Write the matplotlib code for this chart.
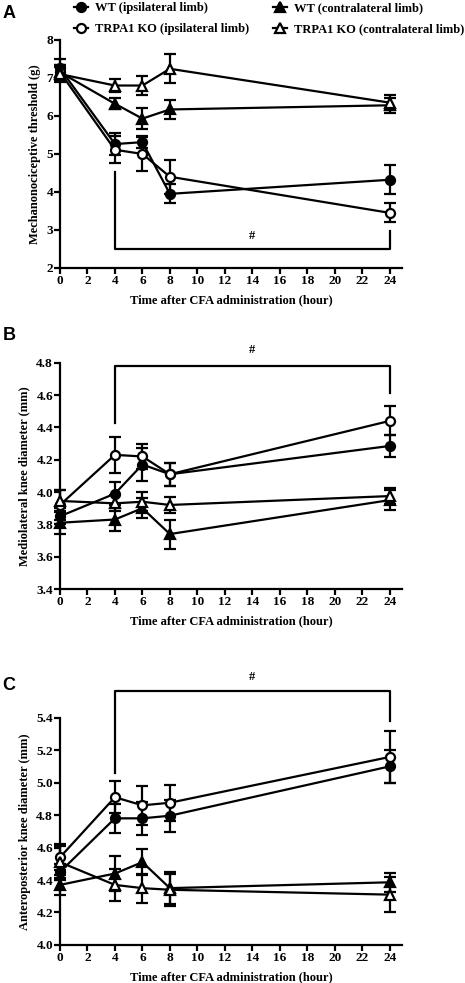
import matplotlib
matplotlib.use("Agg")
import matplotlib.pyplot as plt
from matplotlib.lines import Line2D

plt.rcParams['font.family'] = ['Liberation Serif', 'DejaVu Serif']
plt.rcParams['font.weight'] = 'bold'

time = [0, 4, 6, 8, 24]
series_names = ["WT (ipsilateral limb)", "TRPA1 KO (ipsilateral limb)",
                "WT (contralateral limb)", "TRPA1 KO (contralateral limb)"]

# Panel A: Mechanonociceptive threshold (g)
a_wt_ipsi = [7.25, 5.26, 5.31, 3.95, 4.32]
a_wt_ipsi_err = [0.25, 0.28, 0.15, 0.25, 0.38]
a_ko_ipsi = [7.15, 5.11, 5.00, 4.40, 3.45]
a_ko_ipsi_err = [0.2, 0.35, 0.45, 0.45, 0.25]
a_wt_contra = [7.15, 6.32, 5.93, 6.17, 6.28]
a_wt_contra_err = [0.2, 0.15, 0.28, 0.25, 0.2]
a_ko_contra = [7.10, 6.80, 6.80, 7.24, 6.35]
a_ko_contra_err = [0.2, 0.18, 0.25, 0.38, 0.2]

# Panel B: Mediolateral knee diameter (mm)
b_wt_ipsi = [3.85, 3.99, 4.17, 4.11, 4.285]
b_wt_ipsi_err = [0.05, 0.07, 0.10, 0.07, 0.07]
b_ko_ipsi = [3.92, 4.23, 4.22, 4.11, 4.44]
b_ko_ipsi_err = [0.09, 0.11, 0.08, 0.07, 0.09]
b_wt_contra = [3.81, 3.83, 3.90, 3.74, 3.95]
b_wt_contra_err = [0.07, 0.07, 0.06, 0.09, 0.06]
b_ko_contra = [3.945, 3.93, 3.94, 3.92, 3.975]
b_ko_contra_err = [0.07, 0.05, 0.06, 0.05, 0.05]

# Panel C: Anteroposterior knee diameter (mm)
c_wt_ipsi = [4.45, 4.78, 4.78, 4.796, 5.10]
c_wt_ipsi_err = [0.05, 0.09, 0.10, 0.10, 0.10]
c_ko_ipsi = [4.54, 4.91, 4.86, 4.876, 5.158]
c_ko_ipsi_err = [0.08, 0.10, 0.12, 0.11, 0.16]
c_wt_contra = [4.37, 4.44, 4.51, 4.35, 4.386]
c_wt_contra_err = [0.06, 0.11, 0.08, 0.10, 0.06]
c_ko_contra = [4.51, 4.37, 4.35, 4.34, 4.31]
c_ko_contra_err = [0.1, 0.10, 0.09, 0.10, 0.11]

styles = [dict(marker='o', mfc='black'), dict(marker='o', mfc='white'),
          dict(marker='^', mfc='black'), dict(marker='^', mfc='white')]

fig = plt.figure(figsize=(4.65, 9.83), dpi=100)

def panel(rect, data, ylim, yticks, ylabel, ytickfmt):
    ax = fig.add_axes(rect)
    for (y, e), st in zip(data, styles):
        ax.errorbar(time, y, yerr=e, color='black', lw=1.6, elinewidth=1.6,
                    capsize=4, capthick=1.6, marker=st['marker'], ms=6.5,
                    mfc=st['mfc'], mec='black', mew=1.6, clip_on=False, zorder=3)
    ax.set_xlim(0, 24.9)
    ax.set_ylim(*ylim)
    ax.set_xticks(range(0, 25, 2))
    ax.set_yticks(yticks)
    ax.set_yticklabels([ytickfmt.format(v) for v in yticks])
    for s in ['top', 'right']:
        ax.spines[s].set_visible(False)
    for s in ['left', 'bottom']:
        ax.spines[s].set_linewidth(1.6)
    ax.tick_params(width=1.6, length=4, labelsize=9.5, pad=1)
    for lab in ax.get_xticklabels() + ax.get_yticklabels():
        lab.set_fontweight('bold')
    ax.set_xlabel("Time after CFA administration (hour)", fontsize=9, fontweight='bold', labelpad=5)
    ax.set_ylabel(ylabel, fontsize=9, fontweight='bold', labelpad=4)
    return ax

axA = panel([0.129, 0.7274, 0.7355, 0.232],
            [(a_wt_ipsi, a_wt_ipsi_err), (a_ko_ipsi, a_ko_ipsi_err),
             (a_wt_contra, a_wt_contra_err), (a_ko_contra, a_ko_contra_err)],
            (2, 8), [2, 3, 4, 5, 6, 7, 8], "Mechanonociceptive threshold (g)", "{:g}")
axA.plot([4, 4, 24, 24], [4.52, 2.5, 2.5, 2.98], color='black', lw=1.6, clip_on=False)
axA.text(14, 2.85, "#", ha='center', va='center', fontsize=9)

axB = panel([0.129, 0.4008, 0.7355, 0.2302],
            [(b_wt_ipsi, b_wt_ipsi_err), (b_ko_ipsi, b_ko_ipsi_err),
             (b_wt_contra, b_wt_contra_err), (b_ko_contra, b_ko_contra_err)],
            (3.4, 4.8), [3.4, 3.6, 3.8, 4.0, 4.2, 4.4, 4.6, 4.8], "Mediolateral knee diameter (mm)", "{:.1f}")
axB.plot([4, 4, 24, 24], [4.43, 4.78, 4.78, 4.61], color='black', lw=1.6, clip_on=False)
axB.text(14, 4.88, "#", ha='center', va='center', fontsize=9)

axC = panel([0.129, 0.0387, 0.7355, 0.2312],
            [(c_wt_ipsi, c_wt_ipsi_err), (c_ko_ipsi, c_ko_ipsi_err),
             (c_wt_contra, c_wt_contra_err), (c_ko_contra, c_ko_contra_err)],
            (4.0, 5.4), [4.0, 4.2, 4.4, 4.6, 4.8, 5.0, 5.2, 5.4], "Anteroposterior knee diameter (mm)", "{:.1f}")
axC.plot([4, 4, 24, 24], [5.06, 5.566, 5.566, 5.38], color='black', lw=1.6, clip_on=False)
axC.text(14, 5.65, "#", ha='center', va='center', fontsize=9)

# Legend
handles = [Line2D([0], [0], color='black', lw=1.6, marker=st['marker'], ms=6.5,
                  mfc=st['mfc'], mec='black', mew=1.6) for st in styles]
fig.legend(handles, series_names,
           loc='upper left', bbox_to_anchor=(74 / 465, 1 - 2 / 983), ncol=2, frameon=False,
           prop=dict(family='Liberation Serif', weight='bold', size=9),
           handlelength=1.1, handletextpad=0.6, columnspacing=1.9, labelspacing=0.75,
           borderpad=0, borderaxespad=0)

for lab, y in [("A", 0.995), ("B", 0.667), ("C", 0.311)]:
    fig.text(0.005, y, lab, fontsize=13, fontweight='bold', family='Liberation Sans', va='top')

fig.savefig("out.png", dpi=100)
